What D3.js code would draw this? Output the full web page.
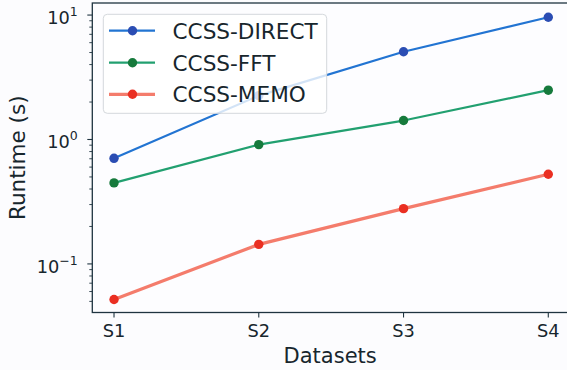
<!DOCTYPE html>
<html><head><meta charset="utf-8">
<script src="https://cdn.jsdelivr.net/npm/d3@7"></script>
<style>html,body{margin:0;padding:0;background:#fcfcfe;}svg{display:block;font-family:"DejaVu Sans",sans-serif;}</style>
</head><body>
<script>
const categories = ["S1", "S2", "S3", "S4"];
const seriesNames = ["CCSS-DIRECT", "CCSS-FFT", "CCSS-MEMO"];
const directValues = [0.706, 2.25, 5.07, 9.6];
const fftValues = [0.448, 0.91, 1.42, 2.49];
const memoValues = [0.0518, 0.1436, 0.278, 0.526];
const yTickExponents = [-1, 0, 1];

const W = 567, H = 370;
const L = 92.3, R = 570, T = 3, B = 312.5;
const axisColor = "#1f3440", textColor = "#17262d";

const svg = d3.select("body").append("svg").attr("width", W).attr("height", H);
svg.append("rect").attr("width", W).attr("height", H).attr("fill", "#fcfcfe");

const x = d3.scalePoint().domain(categories).range([L, R]).padding(0.15);
const y = d3.scaleLog().domain([0.0407, 12.5]).range([B, T]);

const styles = [
  {line: "#2274d2", marker: "#2b4db3", width: 2.2, mr: 4.7},
  {line: "#22a070", marker: "#167a3c", width: 2.2, mr: 4.7},
  {line: "#f47c6c", marker: "#ea2f22", width: 3.2, mr: 4.7}
];
const series = [directValues, fftValues, memoValues];

svg.append("rect").attr("x", L).attr("y", T).attr("width", R - L).attr("height", B - T).attr("fill", "#fdfdff");

const line = d3.line().x((d, i) => x(categories[i])).y(d => y(d));
series.forEach((vals, si) => {
  const st = styles[si];
  svg.append("path").datum(vals).attr("d", line).attr("fill", "none")
    .attr("stroke", st.line).attr("stroke-width", st.width).attr("stroke-linejoin", "round");
  svg.selectAll(null).data(vals).enter().append("circle")
    .attr("cx", (d, i) => x(categories[i])).attr("cy", d => y(d)).attr("r", st.mr)
    .attr("fill", st.marker);
});

// spines
svg.append("rect").attr("x", L).attr("y", T).attr("width", R - L).attr("height", B - T)
  .attr("fill", "none").attr("stroke", axisColor).attr("stroke-width", 1.3);

// x ticks
categories.forEach(c => {
  svg.append("line").attr("x1", x(c)).attr("x2", x(c)).attr("y1", B).attr("y2", B + 5)
    .attr("stroke", axisColor).attr("stroke-width", 1.1);
  svg.append("text").attr("x", x(c)).attr("y", B + 24.8).attr("text-anchor", "middle")
    .attr("font-size", 17.8).attr("fill", textColor).text(c);
});

// y major ticks
yTickExponents.forEach(e => {
  const v = Math.pow(10, e), yy = y(v);
  svg.append("line").attr("x1", L - 5).attr("x2", L).attr("y1", yy).attr("y2", yy)
    .attr("stroke", axisColor).attr("stroke-width", 1.1);
  const t = svg.append("text").attr("x", L - 14.5).attr("y", yy + 8.8).attr("text-anchor", "end")
    .attr("font-size", 17.8).attr("fill", textColor);
  t.append("tspan").text("10");
  t.append("tspan").attr("font-size", 12.5).attr("dy", -7.8).text(e < 0 ? "\u2212" + (-e) : String(e));
});
// y minor ticks
const [d0, d1] = y.domain();
for (let e = -2; e <= 1; e++) {
  for (let m = 2; m <= 9; m++) {
    const v = m * Math.pow(10, e);
    if (v < d0 || v > d1) continue;
    svg.append("line").attr("x1", L - 3).attr("x2", L).attr("y1", y(v)).attr("y2", y(v))
      .attr("stroke", axisColor).attr("stroke-width", 0.9);
  }
}

// axis labels
svg.append("text").attr("x", (L + R) / 2 - 1).attr("y", 362.8).attr("text-anchor", "middle")
  .attr("font-size", 21).attr("fill", textColor).text("Datasets");
svg.append("text").attr("transform", `translate(24.5,${(T + B) / 2}) rotate(-90)`)
  .attr("text-anchor", "middle").attr("font-size", 21.5).attr("fill", textColor).text("Runtime (s)");

// legend
const lg = svg.append("g");
lg.append("rect").attr("x", 103.3).attr("y", 14.3).attr("width", 223.4).attr("height", 99)
  .attr("rx", 4).attr("fill", "#ffffff").attr("fill-opacity", 0.8)
  .attr("stroke", "#d4d8dc").attr("stroke-width", 1);
const rowY = [30.7, 62.7, 94.3];
seriesNames.forEach((n, i) => {
  const st = styles[i];
  lg.append("line").attr("x1", 109).attr("x2", 155).attr("y1", rowY[i]).attr("y2", rowY[i])
    .attr("stroke", st.line).attr("stroke-width", st.width);
  lg.append("circle").attr("cx", 132.5).attr("cy", rowY[i]).attr("r", st.mr).attr("fill", st.marker);
  lg.append("text").attr("x", 172.5).attr("y", rowY[i] + 8).attr("font-size", 21.6)
    .attr("fill", textColor).text(n);
});
</script>
</body></html>
